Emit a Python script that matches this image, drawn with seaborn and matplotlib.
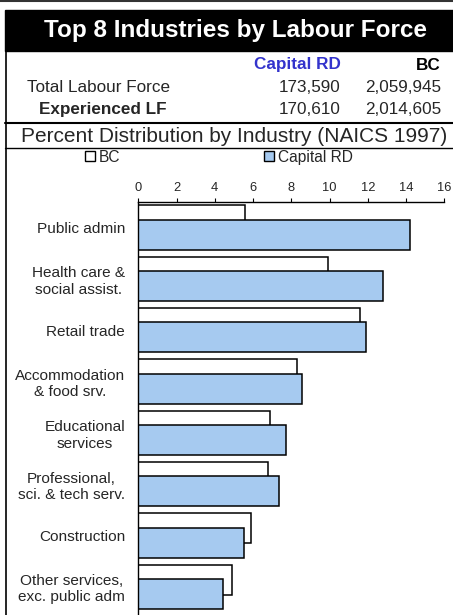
import numpy as np
import pandas as pd
import matplotlib
matplotlib.use("Agg")
import matplotlib.pyplot as plt
from matplotlib.patches import Patch, Rectangle
from matplotlib.lines import Line2D
import seaborn as sns

# Data (percent of experienced labour force)
industries = ["Public admin", "Health care &\nsocial assist.", "Retail trade",
              "Accommodation\n& food srv.", "Educational\nservices",
              "Professional,\nsci. & tech serv.", "Construction",
              "Other services,\nexc. public adm"]
bc_pct = [5.6, 9.9, 11.6, 8.3, 6.9, 6.8, 5.9, 4.9]
capital_pct = [14.2, 12.8, 11.9, 8.55, 7.7, 7.35, 5.55, 4.45]

col_labels = ["Capital RD", "BC"]
row_labels = ["Total Labour Force", "Experienced LF"]
capital_counts = ["173,590", "170,610"]
bc_counts = ["2,059,945", "2,014,605"]
x_ticks = [0, 2, 4, 6, 8, 10, 12, 14, 16]

sns.set_style("white")
plt.rcParams['font.family'] = ['Liberation Sans', 'DejaVu Sans']

W, H = 453, 615
fig = plt.figure(figsize=(W / 100, H / 100), dpi=100)

def fx(px):
    return px / W

def fy(py):
    return 1 - py / H

# frame lines and title bar
fig.add_artist(Line2D([0, 1], [fy(1), fy(1)], color="#333333", lw=1.5))
fig.add_artist(Rectangle((fx(5), fy(51)), 1 - fx(5), fy(10) - fy(51), color="black"))
fig.text(fx(235), fy(30), "Top 8 Industries by Labour Force", color="white",
         fontsize=17.5, fontweight="bold", ha="center", va="center")
fig.add_artist(Line2D([fx(5.5), fx(5.5)], [fy(51), 0], color="black", lw=1.2))
fig.add_artist(Line2D([fx(5), 1], [fy(123), fy(123)], color="black", lw=1.5))
fig.add_artist(Line2D([fx(5), 1], [fy(148), fy(148)], color="black", lw=1.0))

# header table
fs = 12.3
fig.text(fx(341), fy(65), col_labels[0], color="#3333CC", fontsize=fs,
         fontweight="bold", ha="right", va="center")
fig.text(fx(441), fy(65), col_labels[1], color="black", fontsize=fs,
         fontweight="bold", ha="right", va="center")
for i, (lab, cap, bc) in enumerate(zip(row_labels, capital_counts, bc_counts)):
    y = fy(88 + 21.5 * i)
    fig.text(fx(99 + 4 * i), y, lab, fontsize=fs, ha="center", va="center",
             fontweight="bold" if i == 1 else "normal")
    fig.text(fx(341), y, cap, fontsize=fs, ha="right", va="center")
    fig.text(fx(441), y, bc, fontsize=fs, ha="right", va="center")

fig.text(fx(234), fy(136), "Percent Distribution by Industry (NAICS 1997)",
         fontsize=15, ha="center", va="center")

# bar chart
ax = fig.add_axes([fx(138.3), 0, fx(306), fy(202)])
pos = np.arange(len(industries))
df_bc = pd.DataFrame({"pct": bc_pct, "pos": pos - 0.14})
df_cap = pd.DataFrame({"pct": capital_pct, "pos": pos + 0.14})
sns.barplot(data=df_bc, x="pct", y="pos", orient="y", native_scale=True,
            width=0.585, color="white", saturation=1, edgecolor="black",
            linewidth=1.1, ax=ax)
sns.barplot(data=df_cap, x="pct", y="pos", orient="y", native_scale=True,
            width=0.585, color="#A6CAF0", saturation=1, edgecolor="black",
            linewidth=1.1, ax=ax)

ax.set_xlim(0, 16)
ax.set_ylim(7.55, -0.5)
ax.set_xticks(x_ticks)
ax.xaxis.tick_top()
ax.tick_params(axis="x", top=True, direction="out", length=3, width=0.8,
               labelsize=9.3, pad=2.5, color="black")
ax.set_yticks(pos)
ax.set_yticklabels(industries, fontsize=11.1, ha="right")
ax.tick_params(axis="y", left=False, pad=6)
for lbl in ax.get_yticklabels():
    lbl.set_multialignment("center")
ax.set_xlabel("")
ax.set_ylabel("")
for side in ["right", "bottom"]:
    ax.spines[side].set_visible(False)
ax.spines["top"].set_color("black")
ax.spines["left"].set_color("black")
ax.spines["top"].set_linewidth(1.0)
ax.spines["left"].set_linewidth(1.0)

handles = [Patch(facecolor="white", edgecolor="black", label="BC"),
           Patch(facecolor="#A6CAF0", edgecolor="black", label="Capital RD")]
fig.legend(handles=handles, loc="center left", bbox_to_anchor=(fx(85), fy(157)),
           ncol=2, frameon=False, fontsize=11.2, handlelength=0.65, handleheight=0.65,
           handletextpad=0.25, columnspacing=9.2, borderpad=0, borderaxespad=0)

fig.savefig("out.png", dpi=100)
